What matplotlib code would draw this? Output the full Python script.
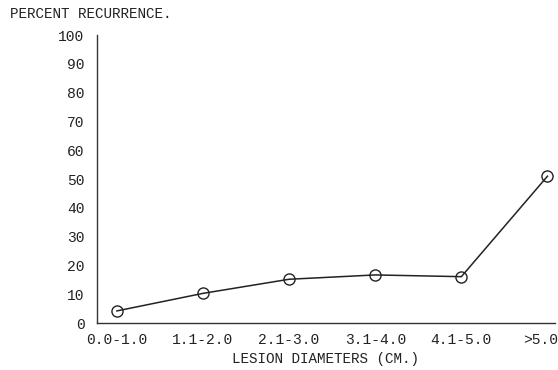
import matplotlib.pyplot as plt
from matplotlib.transforms import ScaledTranslation

categories = ['0.0-1.0', '1.1-2.0', '2.1-3.0', '3.1-4.0', '4.1-5.0', '>5.0']
recurrence = [4.2, 10.3, 15.2, 16.7, 16.1, 51.0]
yticks = [0, 10, 20, 30, 40, 50, 60, 70, 80, 90, 100]

plt.rcParams['font.family'] = ['Liberation Mono', 'DejaVu Sans Mono']

fig = plt.figure(figsize=(5.58, 3.7), dpi=100)
ax = fig.add_axes([0.174, 0.127, 0.821, 0.778])

x = list(range(len(categories)))
ax.plot(x, recurrence, color='#222222', lw=1.1, marker='o', ms=8,
        mfc='none', mec='#222222', mew=1.0)

ax.set_xlim(-0.23, 5.09)
ax.set_ylim(0, 100)
ax.set_xticks(x)
ax.set_xticklabels(categories, fontsize=10.5, color='#222222')
ax.set_yticks(yticks)
ax.set_yticklabels([str(v) for v in yticks], fontsize=10.5, color='#222222')
ax.tick_params(length=0, pad=9)
ax.tick_params(axis='x', pad=7)

# last label sits a bit left of its point in the original
last = ax.get_xticklabels()[-1]
last.set_transform(last.get_transform() + ScaledTranslation(-0.07, 0, fig.dpi_scale_trans))

for s in ['top', 'right']:
    ax.spines[s].set_visible(False)
for s in ['left', 'bottom']:
    ax.spines[s].set_color('#333333')
    ax.spines[s].set_linewidth(1.0)

fig.text(0.018, 0.962, 'PERCENT RECURRENCE.', fontsize=10.3, color='#222222',
         ha='left', va='center')
fig.text(0.583, 0.03, 'LESION DIAMETERS (CM.)', fontsize=10.3, color='#222222',
         ha='center', va='center')

fig.savefig('out.png', dpi=100)
